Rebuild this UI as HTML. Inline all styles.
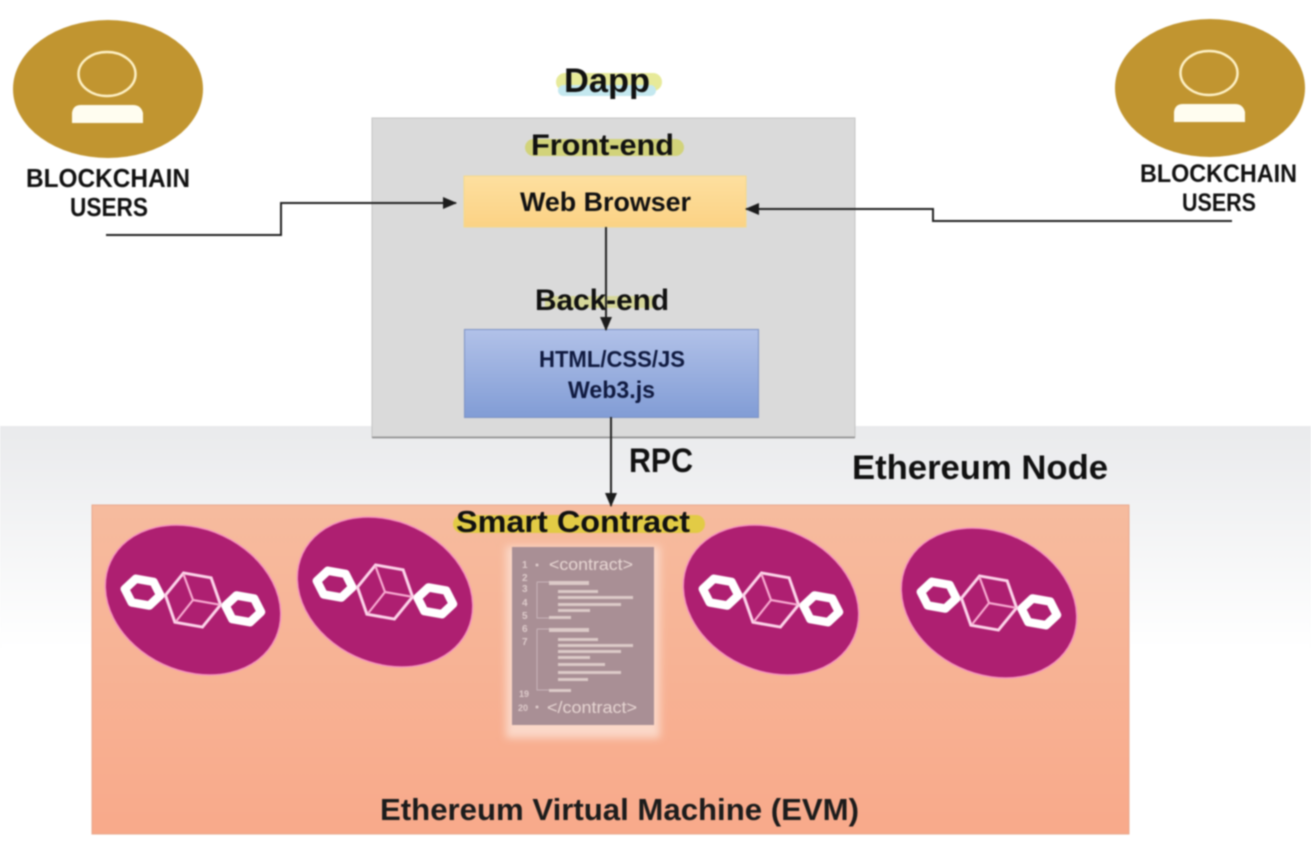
<!DOCTYPE html>
<html><head><meta charset="utf-8">
<style>
html,body{margin:0;padding:0;background:#fff;width:1311px;height:846px;overflow:hidden}
svg{display:block;filter:blur(.7px)}
text{font-family:"Liberation Sans",sans-serif;font-weight:bold;fill:#111}
</style></head>
<body>
<svg width="1311" height="846" viewBox="0 0 1311 846" xmlns="http://www.w3.org/2000/svg">
<defs>
<linearGradient id="bg" x1="0" y1="0" x2="0" y2="1"><stop offset="0" stop-color="#e9eaec"/><stop offset="1" stop-color="#ffffff"/></linearGradient>
<linearGradient id="evm" x1="0" y1="0" x2="0" y2="1"><stop offset="0" stop-color="#f6bb9e"/><stop offset="1" stop-color="#f8a98a"/></linearGradient>
<linearGradient id="web" x1="0" y1="0" x2="0" y2="1"><stop offset="0" stop-color="#fddf9f"/><stop offset="1" stop-color="#fbd284"/></linearGradient>
<linearGradient id="blue" x1="0" y1="0" x2="0" y2="1"><stop offset="0" stop-color="#b1c1e8"/><stop offset="1" stop-color="#819cd5"/></linearGradient>
<filter id="b5" x="-20%" y="-20%" width="140%" height="140%"><feGaussianBlur stdDeviation="4"/></filter>
<g id="node">
  <ellipse rx="91" ry="71" transform="rotate(25)" fill="#ae1f71" stroke="#f592bd" stroke-width="1.5"/>
  <g transform="rotate(10)">
    <polygon points="-69,1 -60,-11 -42,-11 -33,1 -42,13 -60,13" fill="none" stroke="#fff" stroke-width="8.5" stroke-linejoin="round"/>
    <polygon points="33,0 42,-12 60,-12 69,0 60,12 42,12" fill="none" stroke="#fff" stroke-width="8.5" stroke-linejoin="round"/>
    <polygon points="-28,0 -14,-25 14,-25 28,0 14,25 -14,25" fill="#ae1f71" stroke="#fcd3e9" stroke-width="3"/>
    <path d="M0,0 L-14,-24 M0,0 L27,0 M0,0 L-13,24" fill="none" stroke="#f7a9d0" stroke-width="2.2"/>
  </g>
</g>
<g id="user">
  <ellipse cx="0" cy="0" rx="95" ry="69" fill="#c19530"/>
  <ellipse cx="-1" cy="-15" rx="28.5" ry="22" fill="none" stroke="#fdf0c4" stroke-width="2.5"/>
  <path d="M-36,34 L-36,24 Q-35,16 -27,16 L25,16 Q33,16 35,24 L35,34 Z" fill="#fffdf0"/>
</g>
<marker id="arr" markerWidth="14" markerHeight="12" refX="13" refY="6" orient="auto" markerUnits="userSpaceOnUse"><path d="M0,0 L14,6 L0,12 Z" fill="#1c1c1c"/></marker>
</defs>

<rect x="0" y="426" width="1311" height="225" fill="url(#bg)"/>

<!-- EVM panel -->
<rect x="92" y="505" width="1037" height="329" fill="url(#evm)" stroke="#e8a98e" stroke-width="1"/>

<!-- Dapp box -->
<rect x="372" y="118" width="483" height="319" fill="#dadada" stroke="#c4c4c4" stroke-width="1"/>
<line x1="372" y1="437.5" x2="855" y2="437.5" stroke="#8a8a8a" stroke-width="1.5"/>
<rect x="464" y="176" width="282" height="51" fill="url(#web)" stroke="#f4d98c" stroke-width="1"/>
<rect x="464.5" y="329.5" width="294" height="88" fill="url(#blue)" stroke="#7d92c4" stroke-width="1"/>

<!-- highlights -->
<rect x="556" y="73" width="106" height="18" rx="9" fill="#e4e88e" opacity=".9"/>
<rect x="558" y="85" width="98" height="11" rx="5.5" fill="#c4e8ef"/>
<rect x="525" y="139" width="159" height="17" rx="8.5" fill="#d2d37a"/>
<rect x="545" y="296" width="110" height="12" fill="#d5d68a" opacity=".8"/>
<rect x="453" y="515" width="252" height="18" rx="9" fill="#e2cb45"/>

<!-- users -->
<use href="#user" x="108" y="89"/>
<use href="#user" x="1210" y="88"/>
<text x="26" y="187" font-size="26" textLength="164" lengthAdjust="spacingAndGlyphs">BLOCKCHAIN</text>
<text x="70" y="216" font-size="26" textLength="78" lengthAdjust="spacingAndGlyphs">USERS</text>
<text x="1140" y="182" font-size="25" textLength="157" lengthAdjust="spacingAndGlyphs">BLOCKCHAIN</text>
<text x="1182" y="211" font-size="25" textLength="74" lengthAdjust="spacingAndGlyphs">USERS</text>

<!-- labels -->
<text x="564" y="92" font-size="34" textLength="86" lengthAdjust="spacingAndGlyphs">Dapp</text>
<text x="531" y="155" font-size="30" textLength="143" lengthAdjust="spacingAndGlyphs">Front-end</text>
<text x="520" y="211" font-size="27" textLength="171" lengthAdjust="spacingAndGlyphs">Web Browser</text>
<text x="535" y="310" font-size="30" textLength="134" lengthAdjust="spacingAndGlyphs">Back-end</text>
<text x="539" y="367" font-size="23" textLength="146" lengthAdjust="spacingAndGlyphs" style="fill:#101a40">HTML/CSS/JS</text>
<text x="568" y="398" font-size="24" textLength="87" lengthAdjust="spacingAndGlyphs" style="fill:#101a40">Web3.js</text>
<text x="629" y="472" font-size="34" textLength="64" lengthAdjust="spacingAndGlyphs">RPC</text>
<text x="852" y="479" font-size="34" textLength="256" lengthAdjust="spacingAndGlyphs">Ethereum Node</text>
<text x="456" y="532" font-size="31" textLength="234" lengthAdjust="spacingAndGlyphs">Smart Contract</text>
<text x="380" y="820" font-size="31" textLength="479" lengthAdjust="spacingAndGlyphs" style="fill:#1c1c1c">Ethereum Virtual Machine (EVM)</text>

<!-- connectors -->
<g fill="none" stroke="#222" stroke-width="2">
  <path d="M106,235 H281 V203 H456" marker-end="url(#arr)"/>
  <path d="M1232,221 H933 V209 H746" marker-end="url(#arr)"/>
  <path d="M606,227 V330" marker-end="url(#arr)"/>
  <path d="M611,417 V506" marker-end="url(#arr)"/>
</g>

<!-- nodes -->
<use href="#node" x="193" y="600"/>
<use href="#node" x="385" y="592"/>
<use href="#node" x="771" y="600"/>
<use href="#node" x="989" y="603"/>

<!-- contract doc -->
<rect x="506" y="546" width="154" height="192" fill="#fbd8c8" filter="url(#b5)"/>
<rect x="512" y="547" width="142" height="178" fill="#a98f95"/>
<text x="549" y="570" font-size="17" textLength="84" lengthAdjust="spacingAndGlyphs" style="fill:#e6d5d2;font-weight:normal">&lt;contract&gt;</text>
<text x="547" y="713" font-size="17" textLength="90" lengthAdjust="spacingAndGlyphs" style="fill:#e6d5d2;font-weight:normal">&lt;/contract&gt;</text>
<g fill="#dccac8">
  <rect x="549" y="581" width="40" height="4"/><rect x="558" y="590" width="40" height="3"/>
  <rect x="558" y="596" width="75" height="3"/><rect x="558" y="603" width="63" height="3"/>
  <rect x="558" y="609" width="32" height="3"/><rect x="549" y="616" width="22" height="3"/>
  <rect x="549" y="628" width="40" height="4"/><rect x="558" y="638" width="40" height="3"/>
  <rect x="558" y="644" width="75" height="3"/><rect x="558" y="650" width="63" height="3"/>
  <rect x="558" y="656" width="32" height="3"/><rect x="558" y="663" width="47" height="3"/>
  <rect x="558" y="671" width="63" height="3"/><rect x="558" y="678" width="30" height="3"/>
  <rect x="549" y="689" width="22" height="3"/>
</g>
<path d="M537,582 H549 M537,582 V618 H549 M537,629 H549 M537,629 V690 H549" fill="none" stroke="#c8b4b8" stroke-width="1"/>
<g>
  <text x="522" y="568" style="fill:#ddcaca" font-size="10">1</text><text x="522" y="581" style="fill:#ddcaca" font-size="10">2</text>
  <text x="522" y="592" style="fill:#ddcaca" font-size="10">3</text><text x="522" y="606" style="fill:#ddcaca" font-size="10">4</text>
  <text x="522" y="619" style="fill:#ddcaca" font-size="10">5</text><text x="522" y="632" style="fill:#ddcaca" font-size="10">6</text>
  <text x="522" y="645" style="fill:#ddcaca" font-size="10">7</text>
  <text x="519" y="697" style="fill:#ddcaca" font-size="9">19</text><text x="518" y="711" style="fill:#ddcaca" font-size="9">20</text>
</g>
<circle cx="537" cy="565" r="1.5" fill="#ddcaca"/><circle cx="537" cy="707" r="1.5" fill="#ddcaca"/>
</svg>
</body></html>
